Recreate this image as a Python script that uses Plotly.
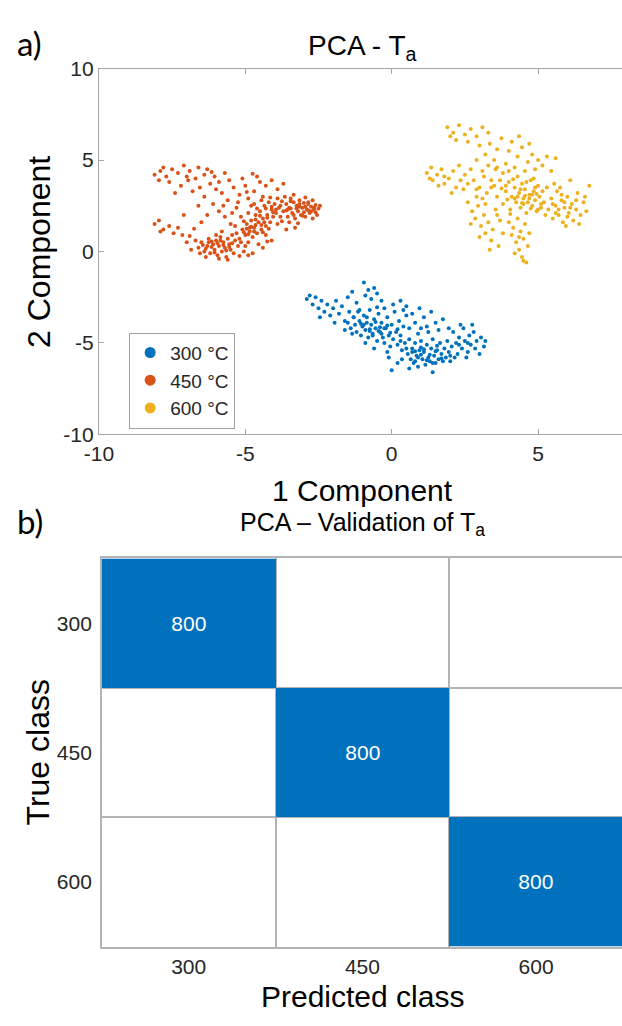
import plotly.graph_objects as go

# ---------------- data ----------------
x300 = [-2.9,-2.8,-2.7,-2.6,-2.5,-2.4,-2.3,-2.2,-2.1,-2.0,-1.9,-1.8,-1.7,-1.6,-1.5,-1.45,-1.35,-1.3,-1.2,-1.1,-0.95,-0.9,-0.8,-0.7,-0.5,-0.35,-2.45,-1.95,-0.6,
        -1.5,-1.4,-1.3,-1.25,-1.2,-1.15,-1.1,-1.05,-1.0,-0.95,-0.9,-0.85,-0.8,-0.75,-0.7,-0.65,-0.6,-0.55,-0.5,-0.45,-0.4,-0.35,-0.3,-0.25,-0.2,-0.15,-0.1,-0.05,0.0,0.05,0.1,0.15,0.2,0.25,0.3,0.35,0.4,0.45,0.5,-1.35,-0.9,-0.6,-0.25,0.05,-1.6,-0.15,-0.75,-0.4,-1.05,0.2,-0.5,
        0.55,0.6,0.65,0.7,0.75,0.8,0.85,0.9,0.95,1.0,1.05,1.1,1.15,1.2,1.25,1.3,1.35,1.4,1.45,1.5,1.55,1.6,1.65,1.7,1.75,1.8,1.85,1.9,1.95,2.0,2.05,0.9,1.25,0.6,1.4,0.2,0.0,0.35,-0.1,1.0,1.55,0.8,
        0.3,0.5,0.7,0.8,0.95,1.1,1.2,1.35,1.5,1.6,1.75,0.6,1.0,0.4,
        2.1,2.2,2.25,2.3,2.4,2.45,2.5,2.6,2.65,2.7,2.8,2.85,2.9,3.0,3.05,3.15,3.2,2.35,2.15,2.55,1.95,2.75,
        -0.95,-0.75,-0.55,-0.35,-0.15,-0.85,-0.65,-0.45,-0.25,-0.05,0.7,0.9,1.1,1.3,1.5,1.7,0.8,1.0,1.2,1.4,0.3,0.5,2.3,2.6,2.0]
y300 = [-2.6,-2.4,-2.9,-2.5,-3.1,-2.7,-3.3,-2.9,-3.5,-3.1,-2.7,-3.4,-3.0,-3.8,-2.5,-3.3,-2.2,-3.6,-2.8,-3.2,-1.7,-2.4,-2.1,-2.6,-2.3,-2.7,-3.6,-3.9,-2.0,
        -3.9,-4.2,-3.6,-4.0,-4.4,-3.3,-3.8,-4.6,-4.1,-3.5,-4.3,-3.9,-4.7,-3.2,-4.0,-4.5,-3.7,-4.2,-4.9,-3.4,-4.4,-3.9,-4.7,-5.0,-4.2,-3.6,-4.6,-5.2,-4.0,-4.8,-3.3,-4.4,-5.1,-3.8,-4.6,-5.4,-4.1,-5.0,-3.5,-4.5,-5.0,-5.3,-3.1,-2.9,-4.3,-5.5,-4.35,-4.15,-3.95,-4.25,-3.05,
        -5.6,-4.8,-5.9,-5.3,-6.1,-5.0,-5.7,-6.3,-5.4,-4.9,-5.9,-5.5,-6.2,-5.1,-5.8,-6.0,-5.3,-4.8,-5.7,-6.1,-5.4,-5.9,-5.0,-5.6,-6.0,-5.3,-5.8,-4.9,-5.5,-6.0,-5.2,-4.5,-4.4,-6.4,-6.6,-6.1,-6.5,-5.9,-5.8,-5.65,-5.15,-5.45,
        -2.7,-3.0,-3.4,-3.9,-3.1,-3.6,-4.1,-3.3,-3.9,-4.3,-3.7,-4.2,-4.2,-3.2,
        -4.4,-5.0,-5.6,-4.7,-5.3,-4.2,-4.9,-5.5,-4.6,-5.1,-4.4,-5.3,-4.9,-5.6,-4.7,-5.2,-4.9,-4.0,-5.8,-5.8,-4.2,-4.0,
        -4.0,-4.25,-3.85,-4.5,-4.05,-3.6,-4.6,-4.35,-4.2,-4.45,-5.5,-5.8,-5.35,-5.65,-5.45,-5.85,-6.0,-5.25,-5.95,-6.1,-4.9,-5.3,-5.1,-5.0,-5.7]

x450 = [-8.1,-7.9,-7.7,-7.5,-7.3,-7.1,-6.9,-6.7,-7.6,-7.95,-7.2,-6.95,-6.6,-6.4,-6.2,-6.8,-7.4,-6.3,-6.05,-5.9,-7.0,-6.55,-7.8,-6.15,-5.7,
        -8.1,-7.95,-7.8,-7.6,-7.45,-7.3,-7.9,-7.15,
        -6.4,-6.1,-5.8,-5.6,-5.4,-5.2,-5.0,-4.9,-4.7,-4.5,-5.3,-5.9,-6.3,-4.8,-5.55,-5.1,-4.6,-4.3,-6.0,-5.75,-4.4,-5.25,-6.6,-4.95,-5.45,-4.1,-3.9,-3.7,-4.75,-6.5,
        -6.6,-6.5,-6.4,-6.3,-6.25,-6.2,-6.1,-6.05,-6.0,-5.95,-5.9,-5.85,-5.8,-5.75,-5.7,-5.65,-5.6,-5.55,-5.5,-5.45,-5.4,-5.35,-6.45,-6.15,-5.9,-5.25,-5.2,-6.35,-6.7,-5.05,-6.0,-5.8,-5.3,-6.55,-5.6,
        -5.2,-5.1,-5.0,-4.95,-4.9,-4.85,-4.8,-4.75,-4.7,-4.65,-4.6,-4.55,-4.5,-4.45,-4.4,-4.35,-4.3,-4.25,-4.2,-4.15,-4.1,-4.05,-4.0,-3.95,-3.9,-3.85,-5.35,-5.15,-4.7,-4.55,-4.9,-5.0,-4.3,-4.45,-4.65,-4.8,-4.4,-4.2,-5.05,-4.6,-3.8,-4.15,-4.75,-4.25,-3.75,
        -3.7,-3.6,-3.55,-3.5,-3.45,-3.4,-3.35,-3.3,-3.25,-3.2,-3.15,-3.1,-3.05,-3.0,-2.95,-2.9,-2.85,-2.8,-2.75,-2.7,-2.65,-2.6,-2.55,-2.5,-2.45,-3.65,-3.8,-3.35,-2.95,-3.5,-3.2,-2.7,-3.6,-3.0,-2.6,-3.9,-3.45,-3.15,-2.85,-3.75,
        -7.0,-6.85,-6.9,-4.9,-4.4,-4.1,-3.6,-3.3,-6.75,-7.1,-5.5,-5.7,
        -6.35,-6.15,-5.95,-5.75,-5.55,-6.05,-5.85,-5.65,-6.25,-5.45,-4.85,-4.65,-4.45,-4.25,-4.05,-4.7,-4.5,-4.3,-4.1,-4.9,-3.55,-3.35,-3.15,-2.95,-2.75,-3.45,-3.25,-3.05,-2.85,-2.65,-5.05,-4.95,-5.15,-4.35,-3.95]
y450 = [4.2,4.4,4.1,4.5,4.3,4.7,4.4,4.0,3.8,3.9,3.6,3.9,4.6,4.2,3.7,3.3,3.2,4.5,4.1,3.8,4.1,3.5,4.6,4.35,4.3,
        1.5,1.7,1.2,1.4,1.0,1.3,1.1,0.9,
        3.0,2.6,3.2,2.8,3.5,3.1,3.6,2.9,3.3,3.8,2.4,2.2,2.0,2.5,3.9,4.0,4.1,3.6,3.4,2.5,3.0,2.7,2.5,3.25,2.1,3.9,3.4,3.7,4.25,1.6,
        0.2,0.5,0.0,0.3,0.7,-0.1,0.4,0.1,0.6,-0.2,0.3,0.8,0.0,0.5,0.2,-0.3,0.7,0.4,0.1,0.9,-0.1,0.6,0.35,0.55,-0.4,0.3,-0.25,-0.3,0.6,0.0,0.9,1.1,1.0,-0.1,-0.45,
        0.7,1.2,0.9,1.5,0.5,1.1,1.7,0.8,1.3,2.0,1.0,1.6,2.2,1.2,1.8,2.5,1.4,2.0,2.7,1.6,2.3,1.9,2.6,2.1,1.5,2.4,1.4,1.9,2.6,0.4,2.1,0.3,0.9,2.8,1.45,1.35,1.05,1.25,1.65,2.35,1.9,2.95,-0.1,0.55,2.75,
        2.2,2.6,1.9,2.4,2.9,2.1,2.7,1.8,2.5,2.2,2.8,2.0,2.4,2.65,1.9,2.3,2.6,2.1,2.45,1.8,2.3,2.55,2.0,2.35,2.5,3.0,2.5,3.1,2.95,1.6,1.55,2.8,2.25,2.15,2.15,2.9,2.35,2.45,2.25,1.65,
        0.5,0.1,0.85,-0.2,0.2,0.6,1.2,1.3,1.25,2.0,1.5,1.9,
        0.15,0.25,0.45,0.35,0.25,-0.05,0.6,0.05,0.5,0.45,1.3,1.75,1.45,1.85,2.15,1.1,1.95,2.35,2.45,0.95,2.3,2.0,2.6,2.45,2.2,2.75,2.35,1.95,2.7,2.4,1.05,1.25,0.5,1.6,2.3]

x600 = [1.9,2.1,2.3,2.5,2.2,2.7,2.9,3.1,2.6,3.3,2.0,
        1.2,1.35,1.4,1.55,1.7,1.8,1.95,2.1,2.2,2.35,2.5,1.6,2.05,2.45,1.3,2.6,
        3.0,3.2,3.35,3.5,3.6,3.75,3.9,4.0,4.1,4.2,4.3,4.45,4.55,4.65,4.8,4.9,5.0,5.15,5.3,5.45,3.3,3.8,4.35,2.9,3.55,4.7,5.6,3.1,
        3.5,3.6,3.7,3.8,3.9,4.0,4.05,4.1,4.2,4.25,4.3,4.35,4.4,4.45,4.5,4.55,4.6,4.65,4.7,4.75,4.8,4.85,4.9,4.95,5.0,5.05,5.1,5.15,5.2,5.25,4.15,4.55,4.75,4.95,4.45,3.75,5.3,4.05,4.85,3.95,
        5.35,5.45,5.5,5.6,5.65,5.7,5.8,5.85,5.9,6.0,6.05,6.15,6.2,6.3,6.35,6.45,6.55,6.65,6.75,5.55,6.1,5.95,6.4,5.75,6.6,
        2.6,2.75,2.85,2.95,3.05,3.15,3.2,3.3,3.4,3.45,3.55,3.65,3.7,3.35,2.7,3.0,3.8,3.1,2.9,3.6,
        4.0,4.1,4.15,4.25,4.3,4.35,4.4,4.45,4.5,4.55,4.6,4.65,4.2,4.7,4.35,4.5,
        2.7,2.8,3.0,3.15,3.25,3.4,2.9,
        4.3,4.5,4.7,4.9,5.1,4.4,4.6,4.8,5.0,4.2,5.5,5.7,5.9,6.1,6.3,5.6,5.8,6.0,3.9,4.0,3.6,3.4,3.2,2.3,1.8]
y600 = [6.8,6.5,6.9,6.4,6.1,6.7,6.3,6.8,6.0,6.5,6.3,
        4.3,4.6,3.9,4.2,4.5,3.7,4.0,4.4,3.5,3.9,4.2,3.6,3.2,3.4,4.0,3.7,
        5.8,5.3,5.9,5.0,5.6,6.2,4.8,5.5,6.0,4.6,5.2,5.7,4.4,4.9,5.3,4.5,5.0,4.7,5.2,4.4,4.7,4.3,6.3,5.0,4.5,5.9,5.1,4.4,
        3.6,3.0,3.9,2.6,3.3,3.8,2.3,3.0,3.5,2.7,4.1,3.2,2.4,3.7,2.9,3.4,2.1,2.7,3.1,3.9,2.5,3.3,2.8,2.2,3.6,3.0,2.4,3.3,2.7,2.0,3.95,3.05,2.35,3.15,2.65,3.45,3.5,2.05,4.0,2.85,
        2.3,2.9,1.8,2.5,3.3,2.0,2.8,1.6,2.4,3.0,2.1,2.6,1.7,2.3,3.2,2.0,2.7,2.2,3.6,3.7,3.9,1.4,1.5,3.5,3.0,
        2.7,2.2,1.8,2.5,1.4,2.0,1.0,1.6,0.6,1.2,2.3,0.3,1.7,0.1,1.5,0.8,1.0,2.9,3.0,2.0,
        1.6,0.9,1.3,0.5,1.8,0.1,1.1,-0.3,0.7,1.5,-0.6,0.3,-0.1,1.0,0.8,-0.5,
        4.5,3.9,3.5,4.1,3.2,3.9,3.4,
        3.0,2.6,2.9,3.5,2.6,3.4,3.8,3.1,2.3,2.9,2.6,2.3,2.7,2.4,2.8,2.1,3.1,1.9,3.6,4.4,4.6,3.5,2.6,4.7,4.1]

series_names = ["300 °C", "450 °C", "600 °C"]
series_colors = ["#0072BD", "#D95319", "#EDB120"]

x_ticks = [-10, -5, 0, 5]
x_ticklabels = ["-10", "-5", "0", "5"]
y_ticks = [-10, -5, 0, 5, 10]
y_ticklabels = ["-10", "-5", "0", "5", "10"]

class_labels = ["300", "450", "600"]
confusion = [[800, 0, 0],
             [0, 800, 0],
             [0, 0, 800]]

# ---------------- layout helpers ----------------
W, H = 622, 1026
def px(x):
    return x / W
def py(y):
    return 1 - y / H

FONT = "Liberation Sans, Arial, sans-serif"
TXT = "#262626"
AX = "#a6a6a6"
GRID = "#b4b4b4"

fig = go.Figure()

xs = [x300, x450, x600]
ys = [y300, y450, y600]
for xv, yv, nm, col in zip(xs, ys, series_names, series_colors):
    fig.add_trace(go.Scatter(x=xv, y=yv, mode="markers", showlegend=False,
                             marker=dict(size=4, color=col, line=dict(width=0)),
                             xaxis="x", yaxis="y", name=nm, hoverinfo="skip"))
# legend entries (larger symbols, like the MATLAB legend)
for nm, col in zip(series_names, series_colors):
    fig.add_trace(go.Scatter(x=[None], y=[None], mode="markers", name=nm,
                             marker=dict(size=11, color=col),
                             xaxis="x", yaxis="y", showlegend=True))

# confusion matrix
text = [[str(v) if v else " " for v in row] for row in confusion]
fig.add_trace(go.Heatmap(z=confusion, x=[0, 1, 2], y=[0, 1, 2], text=text,
                         texttemplate="%{text}",
                         textfont=dict(color="white", size=21, family=FONT),
                         colorscale=[[0, "rgba(255,255,255,0)"], [1, "#0072BD"]],
                         zmin=0, zmax=800, showscale=False, hoverinfo="skip",
                         xaxis="x2", yaxis="y2"))

# plot a geometry (pixels): x -10 at 86, 30 px/unit; y from 58 (10) to 432 (-10)
xa_left = 86
x_per = 30.0
xa_max = -10 + (W - xa_left) / x_per

# plot b geometry
xb_left = 89
cell_w = 178.0
xb_max = -0.5 + (W - xb_left) / cell_w

fig.update_layout(
    width=W, height=H,
    margin=dict(l=0, r=0, t=0, b=0),
    paper_bgcolor="white", plot_bgcolor="white",
    font=dict(family=FONT, color=TXT),
    xaxis=dict(domain=[px(xa_left), 1], range=[-10, xa_max], tickvals=x_ticks,
               ticktext=x_ticklabels,
               showline=True, linecolor=AX, linewidth=1, mirror="ticks",
               ticks="inside", ticklen=5, tickcolor=AX, showgrid=False, zeroline=False,
               tickfont=dict(size=21, color=TXT), anchor="y"),
    yaxis=dict(domain=[py(432), py(58)], range=[-10, 10], tickvals=y_ticks,
               ticktext=y_ticklabels,
               showline=True, linecolor=AX, linewidth=1,
               ticks="inside", ticklen=5, tickcolor=AX, showgrid=False, zeroline=False,
               tickfont=dict(size=21, color=TXT), anchor="x"),
    xaxis2=dict(domain=[px(xb_left), 1], range=[-0.5, xb_max], tickvals=[0, 1, 2],
                ticktext=class_labels, showline=True, linecolor=GRID, linewidth=1.5,
                mirror=True, ticks="", showgrid=False, zeroline=False, layer="below traces",
                minor=dict(tickvals=[0.5, 1.5], showgrid=True, gridcolor=GRID, gridwidth=1.5, ticks=""),
                tickfont=dict(size=21, color=TXT), anchor="y2"),
    yaxis2=dict(domain=[py(956), py(559)], range=[2.5, -0.5], tickvals=[0, 1, 2],
                ticktext=class_labels, showline=True, linecolor=GRID, linewidth=1.5,
                mirror=False, ticks="", showgrid=False, zeroline=False, layer="below traces",
                minor=dict(tickvals=[0.5, 1.5], showgrid=True, gridcolor=GRID, gridwidth=1.5, ticks=""),
                tickfont=dict(size=21, color=TXT), anchor="x2", ticklabelstandoff=4),
    legend=dict(x=px(117), y=py(328), xanchor="left", yanchor="top",
                bgcolor="white", bordercolor="#a0a0a0", borderwidth=1,
                font=dict(size=19, color=TXT, family=FONT), itemwidth=30,
                tracegroupgap=0),
)

ann = [
    dict(text="a)", x=px(0), y=py(32), xanchor="left", yanchor="middle",
         font=dict(size=33, color="black", family="Lato, Open Sans, sans-serif")),
    dict(text="PCA - T<sub>a</sub>", x=px(356), y=py(36), xanchor="center", yanchor="middle",
         font=dict(size=28, color="black")),
    dict(text="1 Component", x=px(356), y=py(489), xanchor="center", yanchor="middle",
         font=dict(size=30, color="black")),
    dict(text="2 Component", x=px(24), y=py(245), xanchor="center", yanchor="middle",
         textangle=-90, font=dict(size=32, color="black")),
    dict(text="b)", x=px(0), y=py(521), xanchor="left", yanchor="middle",
         font=dict(size=33, color="black", family="Lato, Open Sans, sans-serif")),
    dict(text="PCA – Validation of T<sub>a</sub>", x=px(356), y=py(524), xanchor="center", yanchor="middle",
         font=dict(size=25, color="black")),
    dict(text="Predicted class", x=px(356), y=py(1007), xanchor="center", yanchor="middle",
         font=dict(size=30, color="black")),
    dict(text="True class", x=px(24), y=py(757), xanchor="center", yanchor="middle",
         textangle=-90, font=dict(size=32, color="black")),
]
for a in ann:
    a.update(xref="paper", yref="paper", showarrow=False)
fig.update_layout(annotations=ann)

fig.write_html("out.html", config={"displayModeBar": False},
               post_script="document.body.style.margin='0';")
